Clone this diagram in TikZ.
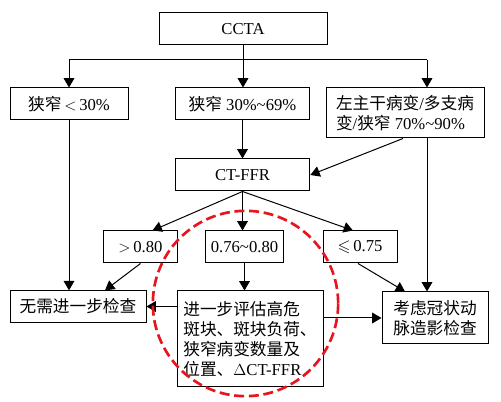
\documentclass[tikz,border=0pt]{standalone}
\usepackage{fontspec}
\usepackage{amssymb}
\setmainfont{Liberation Serif}
\newfontfamily\cjk{Noto Sans CJK SC}
\newcommand\zh[1]{{\cjk #1}}
\usetikzlibrary{arrows.meta,calc}
\definecolor{circred}{RGB}{232,20,30}
\begin{document}
\begin{tikzpicture}[x=0.75pt,y=-0.75pt,
  box/.style={draw, line width=0.75pt, inner sep=0pt, font=\fontsize{12.5}{15}\selectfont},
  conn/.style={line width=0.75pt},
  arr/.style={conn, -{Triangle[length=7pt,width=8pt]}}]
\useasboundingbox (0,0) rectangle (501,402);

\node[box, minimum width=126pt, minimum height=24pt] (ccta) at (243,29) {CCTA};
\node[box, minimum width=88.5pt, minimum height=24pt] (n1) at (69,104) {\zh{狭窄}\,$<$\,30\%};
\node[box, minimum width=101pt, minimum height=24pt] (n2) at (242.5,104) {\zh{狭窄}~30\%\textasciitilde69\%};
\node[box, minimum width=118.5pt, minimum height=37.5pt, align=left] (n3) at (405,113) {\zh{左主干病变}/\zh{多支病}\\\zh{变}/\zh{狭窄}~70\%\textasciitilde90\%};
\node[box, minimum width=101pt, minimum height=24pt] (ctffr) at (242.5,175) {CT-FFR};
\node[box, minimum width=55pt, minimum height=24pt] (g1) at (140.5,247) {$>$\,0.80};
\node[box, minimum width=59pt, minimum height=24pt] (g2) at (244.5,247) {0.76\textasciitilde0.80};
\node[box, minimum width=55.5pt, minimum height=24pt] (g3) at (360,247) {$\leqslant$\,0.75};
\node[box, minimum width=102pt, minimum height=23.5pt] (r1) at (78,306.5) {\zh{无需进一步检查}};
\node[box, minimum width=109.5pt, minimum height=72pt, align=left] (r2) at (250,339) {\zh{进一步评估高危}\\\zh{斑块、斑块负荷、}\\\zh{狭窄病变数量及}\\\zh{位置、}$\Delta$CT-FFR};
\node[box, minimum width=79.5pt, minimum height=39pt, align=center] (r3) at (435,318) {\zh{考虑冠状动}\\\zh{脉造影检查}};

\coordinate (busL) at (69,60);
\coordinate (busM) at (243,60);
\coordinate (busR) at (427,60);
\draw[conn] (ccta.south) -- (busM);
\draw[conn] (busL) -- (busR);
\draw[arr] (busL) -- (n1.north);
\draw[arr] (busM) -- (busM |- n2.north);
\draw[arr] (busR) -- (busR |- n3.north);

\draw[arr] (n2.south) -- (ctffr.north);
\draw[arr] ($(n3.south)+(-2,0)$) -- (ctffr.east);

\draw[arr] (ctffr.south) -- ($(g1.north)+(12,0)$);
\draw[arr] (ctffr.south) -- (ctffr.south |- g2.north);
\draw[arr] (ctffr.south) -- ($(g3.north)+(-7,0)$);

\draw[arr] (n1.south) -- (n1.south |- r1.north);
\draw[arr] (g1.south) -- ($(r1.north)+(27,0)$);
\draw[arr] (g2.south) -- (g2.south |- r2.north);
\draw[arr] ($(g3.south)+(-2,0)$) -- ($(r3.north)+(-30,0)$);
\draw[arr] (busR |- n3.south) -- (busR |- r3.north);

\draw[arr] (r1.east -| r2.west) -- (r1.east);
\draw[arr] (r3.west -| r2.east) -- (r3.west);

\draw[circred, line width=2pt, dash pattern=on 7.5pt off 3.5pt] (245.5,303.5) circle[radius=69.5pt];
\end{tikzpicture}
\end{document}
